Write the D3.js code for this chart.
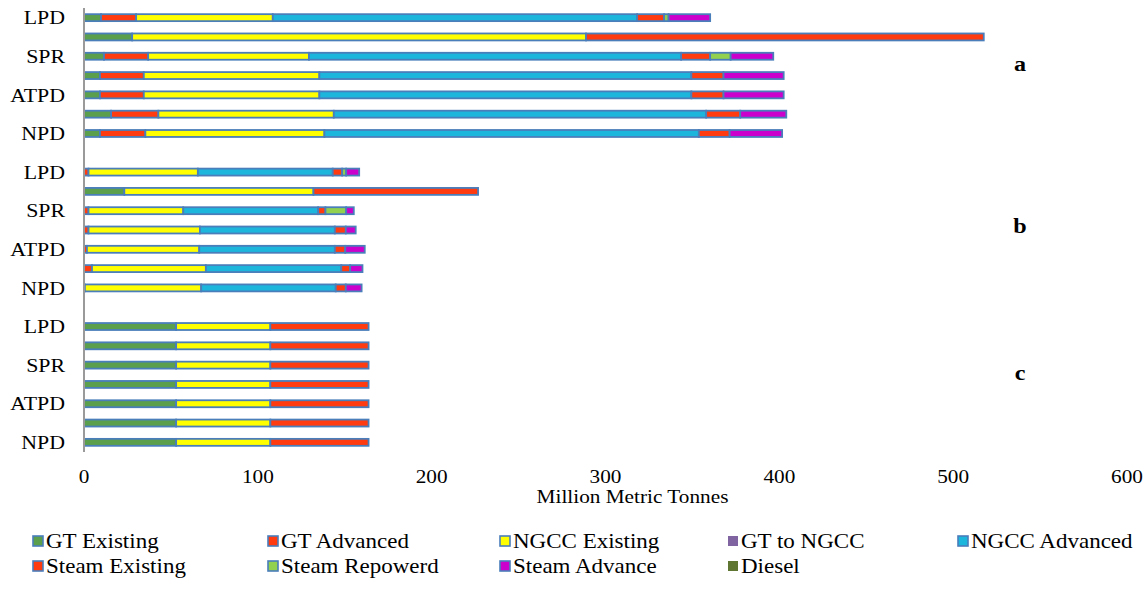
<!DOCTYPE html>
<html>
<head>
<meta charset="utf-8">
<script src="https://cdn.jsdelivr.net/npm/d3@7"></script>
<style>
  html, body { margin: 0; padding: 0; background: #fff; }
  svg { display: block; }
  text { font-family: "Liberation Serif", "Times New Roman", serif; fill: #000; }
</style>
</head>
<body>
<svg id="chart" width="1148" height="613"></svg>
<script>
// Panels and the scenario rows inside each panel (only every other row is labelled)
const groups = ["a", "b", "c"];
const rowLabels = ["LPD", "", "SPR", "", "ATPD", "", "NPD"];

const seriesNames = ["GT Existing", "GT Advanced", "NGCC Existing", "GT to NGCC", "NGCC Advanced",
  "Steam Existing", "Steam Repowerd", "Steam Advance", "Diesel"];
const seriesColors = ["#5b9f4d", "#ff3b0f", "#ffff00", "#8064a2", "#1cb6dc",
  "#ff3b0f", "#92d050", "#cc00cc", "#5f7532"];
const seriesOutlined = [true, true, true, false, true, true, true, true, false];

// Million metric tonnes per generation type; panel a rows 1-7, then panel b, then panel c
const gtExisting    = [9.8, 27.7, 11.5, 9.2, 9.2, 15.6, 9.2,   0, 23.2, 0, 0, 0, 0, 0,   53, 53, 53, 53, 53, 53, 53];
const gtAdvanced    = [20.2, 0, 25.4, 25.2, 25.2, 27.2, 26.1,  2.6, 0, 2.6, 2.6, 1.7, 4.6, 0.5,  0, 0, 0, 0, 0, 0, 0];
const ngccExisting  = [78.6, 261.1, 92.5, 101.0, 101.0, 100.9, 103.0,  62.9, 108.8, 54.5, 64.1, 64.6, 65.5, 66.9,  54.2, 54.2, 54.2, 54.2, 54.2, 54.2, 54.2];
const gtToNgcc      = [0, 0, 0, 0, 0, 0, 0,  0, 0, 0, 0, 0, 0, 0,  0, 0, 0, 0, 0, 0, 0];
const ngccAdvanced  = [209.6, 0, 214.1, 214.0, 214.0, 214.2, 215.4,  77.6, 0, 77.6, 77.6, 78.0, 77.9, 77.4,  0, 0, 0, 0, 0, 0, 0];
const steamExisting = [15.5, 228.8, 16.7, 18.5, 18.5, 19.6, 17.7,  5.4, 94.7, 4.2, 6.3, 6.0, 5.1, 5.8,  56.5, 56.5, 56.5, 56.5, 56.5, 56.5, 56.5];
const steamRepowerd = [2.6, 0, 11.8, 0, 0, 0, 0,  2.3, 0, 11.9, 0, 0, 0, 0,  0, 0, 0, 0, 0, 0, 0];
const steamAdvance  = [23.9, 0, 24.5, 34.6, 34.6, 26.5, 30.2,  7.5, 0, 4.4, 5.7, 11.2, 7.1, 9.1,  0, 0, 0, 0, 0, 0, 0];
const diesel        = [0, 0, 0, 0, 0, 0, 0,  0, 0, 0, 0, 0, 0, 0,  0, 0, 0, 0, 0, 0, 0];

const xTicks = [0, 100, 200, 300, 400, 500, 600];
const xTitle = "Million Metric Tonnes";

const seriesValues = [gtExisting, gtAdvanced, ngccExisting, gtToNgcc, ngccAdvanced,
  steamExisting, steamRepowerd, steamAdvance, diesel];

// One category slot per row, with an empty slot between panels
const slots = [];
groups.forEach((g, gi) => {
  rowLabels.forEach((lab, ri) => {
    const rec = { slot: `${g}-${ri}`, label: lab, group: g };
    seriesNames.forEach((s, si) => { rec[s] = seriesValues[si][gi * rowLabels.length + ri]; });
    slots.push(rec);
  });
  if (gi < groups.length - 1) slots.push({ slot: `gap-${gi}`, label: "", group: null });
});

const svg = d3.select("#chart");
const plot = { left: 84, right: 1127, top: 8, bottom: 452 };
const textStretch = 1.15;   // serif text here is set slightly wide

const x = d3.scaleLinear().domain([0, 600]).range([plot.left, plot.right]);
const y = d3.scaleBand().domain(slots.map(d => d.slot)).range([plot.top, plot.bottom]).paddingInner(0.64).paddingOuter(0.32);

const stacked = d3.stack().keys(seriesNames).value((d, k) => d[k] || 0)(slots.filter(d => d.group));

// Places a text so that its anchor sits at (px, py), widened horizontally
function placed(sel, px, py) {
  return sel.attr("transform", (d, i) => `translate(${px(d, i)},${py(d, i)}) scale(${textStretch},1)`);
}

// Bars
const layer = svg.append("g");
stacked.forEach((ser, si) => {
  layer.append("g")
    .selectAll("rect")
    .data(ser.filter(d => d[1] - d[0] > 0))
    .join("rect")
    .attr("x", d => x(d[0]))
    .attr("y", d => y(d.data.slot))
    .attr("width", d => x(d[1]) - x(d[0]))
    .attr("height", y.bandwidth())
    .attr("fill", seriesColors[si])
    .attr("stroke", "#4a7ebb")
    .attr("stroke-width", 1.8);
});

// Category axis line and labels
svg.append("line")
  .attr("x1", plot.left).attr("x2", plot.left)
  .attr("y1", plot.top).attr("y2", plot.bottom)
  .attr("stroke", "#9a9a9a").attr("stroke-width", 2);

placed(svg.append("g").selectAll("text")
  .data(slots.filter(d => d.label))
  .join("text"), () => 65, d => y(d.slot) + y.bandwidth() / 2)
  .attr("dy", "0.35em")
  .attr("text-anchor", "end")
  .attr("font-size", 19)
  .text(d => d.label);

// Value axis tick labels
placed(svg.append("g").selectAll("text")
  .data(xTicks)
  .join("text"), d => x(d), () => 477)
  .attr("dy", "0.35em")
  .attr("text-anchor", "middle")
  .attr("font-size", 18.5)
  .text(d => d);

placed(svg.append("text").datum(xTitle), () => (plot.left + plot.right) / 2 + 27, () => 497)
  .attr("dy", "0.35em")
  .attr("text-anchor", "middle")
  .attr("font-size", 18.5)
  .text(d => d);

// Panel letters
const groupPos = { a: 2.4, b: 10.8, c: 18.4 };
placed(svg.append("g").selectAll("text")
  .data(groups)
  .join("text"), () => 1020, g => plot.top + y.step() * (groupPos[g] + 0.5))
  .attr("dy", "0.35em")
  .attr("text-anchor", "middle")
  .attr("font-size", 21)
  .attr("font-weight", "bold")
  .text(g => g);

// Legend: five columns, two rows
const legendCols = [33, 268, 500, 728, 958];
const legendRows = [541, 566];
const legend = svg.append("g").selectAll("g")
  .data(seriesNames)
  .join("g")
  .attr("transform", (d, i) => `translate(${legendCols[i % 5]},${legendRows[Math.floor(i / 5)]})`);
legend.append("rect")
  .attr("x", 0).attr("y", -5)
  .attr("width", 10).attr("height", 10)
  .attr("fill", (d, i) => seriesColors[i])
  .attr("stroke", (d, i) => seriesOutlined[i] ? "#4a7ebb" : "none")
  .attr("stroke-width", 1.6);
placed(legend.append("text"), () => 13, () => 0)
  .attr("dy", "0.35em")
  .attr("font-size", 20)
  .text(d => d);
</script>
</body>
</html>
